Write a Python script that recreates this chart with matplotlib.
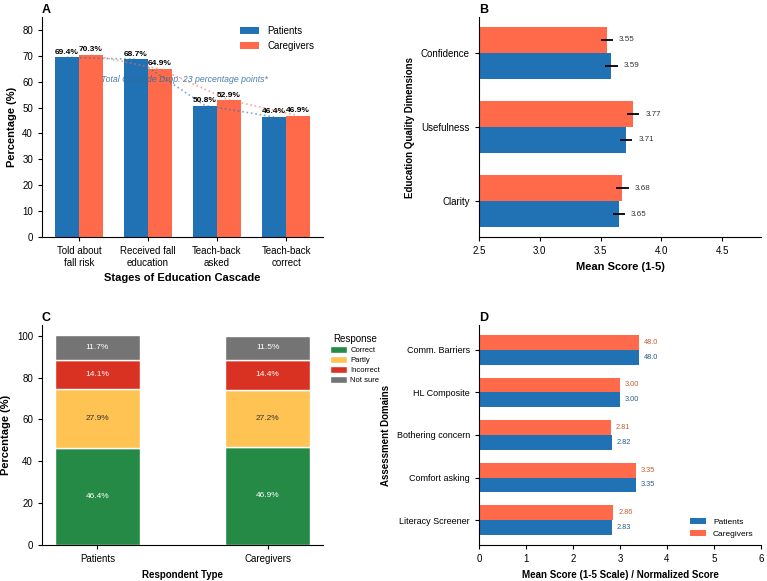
import numpy as np
import matplotlib.pyplot as plt

plt.rcParams['font.family'] = ['Liberation Sans', 'DejaVu Sans']

# panel A data
stages = ["Told about\nfall risk", "Received fall\neducation", "Teach-back\nasked", "Teach-back\ncorrect"]
pat_cascade = [69.4, 68.7, 50.8, 46.4]
care_cascade = [70.3, 64.9, 52.9, 46.9]

# panel B data
dims = ["Clarity", "Usefulness", "Confidence"]
pat_quality = [3.65, 3.71, 3.59]
care_quality = [3.68, 3.77, 3.55]
quality_err = [0.05, 0.05, 0.05]

# panel C data
groups = ["Patients", "Caregivers"]
responses = ["Correct", "Partly", "Incorrect", "Not sure"]
correct = [46.4, 46.9]
partly = [27.9, 27.2]
incorrect = [14.1, 14.4]
not_sure = [11.7, 11.5]

# panel D data
domains = ["Literacy Screener", "Comfort asking", "Bothering concern", "HL Composite", "Comm. Barriers"]
pat_domain = [2.83, 3.35, 2.82, 3.00, 3.40]
care_domain = [2.86, 3.35, 2.81, 3.00, 3.40]
pat_domain_lbl = ["2.83", "3.35", "2.82", "3.00", "48.0"]
care_domain_lbl = ["2.86", "3.35", "2.81", "3.00", "48.0"]

BLUE = '#2171b5'
ORANGE = '#ff6b4a'
resp_colors = ['#248a46', '#fec352', '#d93222', '#747474']

W, H = 767, 581
fig = plt.figure(figsize=(W / 100, H / 100), dpi=100)

def ax_at(l, t, r, b):
    return fig.add_axes([l / W, 1 - b / H, (r - l) / W, (b - t) / H])

axA = ax_at(42, 17, 323, 237)
axB = ax_at(479, 17, 761, 237)
axC = ax_at(42, 325, 323, 545)
axD = ax_at(479, 325, 761, 545)

for ax in (axA, axB, axC, axD):
    ax.spines['top'].set_visible(False)
    ax.spines['right'].set_visible(False)
    ax.tick_params(labelsize=7, length=3, width=0.8)

bw = 0.35

# ---- A: cascade
x = np.arange(len(stages))
axA.bar(x - bw / 2, pat_cascade, bw, color=BLUE, label='Patients')
axA.bar(x + bw / 2, care_cascade, bw, color=ORANGE, label='Caregivers')
axA.plot(x - bw / 2, pat_cascade, ':', color=BLUE, alpha=0.6, lw=1.2)
axA.plot(x + bw / 2, care_cascade, ':', color=ORANGE, alpha=0.6, lw=1.2)
for i in range(len(x)):
    axA.text(x[i] - bw / 2, pat_cascade[i] + 0.6, f"{pat_cascade[i]}%", ha='center', va='bottom',
             fontsize=6, fontweight='bold')
    axA.text(x[i] + bw / 2, care_cascade[i] + 0.6, f"{care_cascade[i]}%", ha='center', va='bottom',
             fontsize=6, fontweight='bold')
axA.text(1.53, 61, "Total Cascade Drop: 23 percentage points*", ha='center', va='center',
         fontsize=6.3, style='italic', color='#2c6a9a', alpha=0.85)
axA.set_ylim(0, 85)
axA.set_xticks(x)
axA.set_xticklabels(stages, fontsize=7)
axA.set_ylabel("Percentage (%)", fontsize=8, fontweight='bold')
axA.set_xlabel("Stages of Education Cascade", fontsize=8, fontweight='bold')
axA.legend(loc='upper right', frameon=False, fontsize=7)
axA.set_title("A", loc='left', fontsize=9, fontweight='bold', pad=3)

# ---- B: quality
y = np.arange(len(dims))
axB.barh(y - bw / 2, pat_quality, bw, color=BLUE, xerr=quality_err,
         error_kw=dict(ecolor='black', lw=1.3, capsize=0))
axB.barh(y + bw / 2, care_quality, bw, color=ORANGE, xerr=quality_err,
         error_kw=dict(ecolor='black', lw=1.3, capsize=0))
for i in range(len(y)):
    axB.text(pat_quality[i] + 0.1, y[i] - bw / 2, f"{pat_quality[i]:.2f}", va='center', fontsize=5.8, color='#333333')
    axB.text(care_quality[i] + 0.1, y[i] + bw / 2, f"{care_quality[i]:.2f}", va='center', fontsize=5.8, color='#333333')
axB.set_xlim(2.5, 4.82)
axB.set_xticks([2.5, 3.0, 3.5, 4.0, 4.5])
axB.set_yticks(y)
axB.set_yticklabels(dims)
axB.set_xlabel("Mean Score (1-5)", fontsize=8, fontweight='bold')
axB.set_ylabel("Education Quality Dimensions", fontsize=7, fontweight='bold')
axB.set_title("B", loc='left', fontsize=9, fontweight='bold', pad=3)

# ---- C: stacked responses
xc = np.arange(len(groups))
bottom = np.zeros(len(groups))
for name, vals, col in zip(responses, [correct, partly, incorrect, not_sure], resp_colors):
    axC.bar(xc, vals, 0.5, bottom=bottom, color=col, edgecolor='white', lw=1, label=name)
    tc = '#333333' if name == "Partly" else 'white'
    for j in range(len(xc)):
        axC.text(xc[j], bottom[j] + vals[j] / 2, f"{vals[j]}%", ha='center', va='center', fontsize=6, color=tc)
    bottom += np.array(vals)
axC.set_xticks(xc)
axC.set_xticklabels(groups)
axC.set_ylabel("Percentage (%)", fontsize=8, fontweight='bold')
axC.set_xlabel("Respondent Type", fontsize=7, fontweight='bold')
axC.legend(title="Response", loc='upper left', bbox_to_anchor=(1.0, 0.99), frameon=False,
           fontsize=5.5, title_fontsize=7, handlelength=2.2, handleheight=1.0, labelspacing=0.25,
           handletextpad=0.5)
axC.set_title("C", loc='left', fontsize=9, fontweight='bold', pad=3)

# ---- D: domains
yd = np.arange(len(domains))
axD.barh(yd - bw / 2, pat_domain, bw, color=BLUE, label='Patients')
axD.barh(yd + bw / 2, care_domain, bw, color=ORANGE, label='Caregivers')
for i in range(len(yd)):
    axD.text(pat_domain[i] + 0.1, yd[i] - bw / 2, pat_domain_lbl[i], va='center', fontsize=5.3, color='#2c5f8a')
    axD.text(care_domain[i] + 0.1, yd[i] + bw / 2, care_domain_lbl[i], va='center', fontsize=5.3, color='#c0622f')
axD.set_xlim(0, 6)
axD.set_yticks(yd)
axD.set_yticklabels(domains, fontsize=6.5)
axD.set_xlabel("Mean Score (1-5 Scale) / Normalized Score", fontsize=7, fontweight='bold')
axD.set_ylabel("Assessment Domains", fontsize=7, fontweight='bold')
axD.legend(loc='lower right', frameon=False, fontsize=6)
axD.set_title("D", loc='left', fontsize=9, fontweight='bold', pad=3)

fig.savefig("out.png", dpi=100)
